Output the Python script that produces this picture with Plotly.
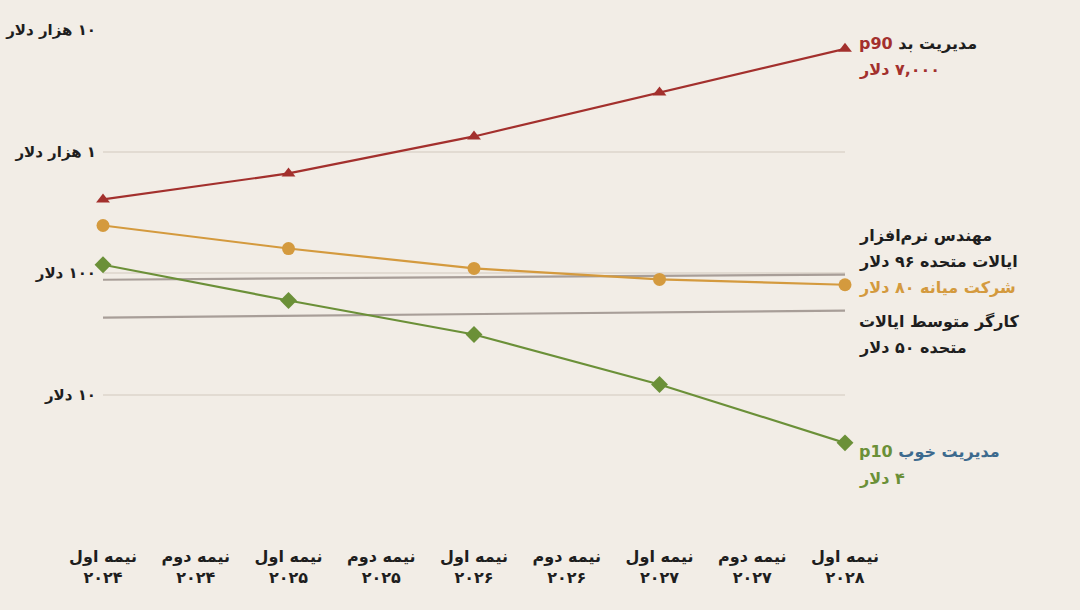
import plotly.graph_objects as go

categories = ["نیمه اول<br>۲۰۲۴", "نیمه دوم<br>۲۰۲۴", "نیمه اول<br>۲۰۲۵", "نیمه دوم<br>۲۰۲۵",
              "نیمه اول<br>۲۰۲۶", "نیمه دوم<br>۲۰۲۶", "نیمه اول<br>۲۰۲۷", "نیمه دوم<br>۲۰۲۷",
              "نیمه اول<br>۲۰۲۸"]
series_x = [categories[0], categories[2], categories[4], categories[6], categories[8]]
p90_bad = [403, 660, 1330, 3060, 7000]
mid_company = [246, 159, 109, 88.5, 80]
p10_good = [117, 59.4, 31.2, 12.1, 4.0]
ref_x = [categories[0], categories[8]]
us_engineer = [88, 97]
us_worker = [43, 49]
y_tickvals = [10, 100, 1000, 10000]
y_ticktext = ["\u200f۱۰ دلار", "\u200f۱۰۰ دلار", "\u200f۱ هزار دلار", "\u200f۱۰ هزار دلار"]

BG = "#f2ede6"
RED = "#a3302d"
ORANGE = "#d49a3e"
GREEN = "#6b9038"
GRAY = "#a89e98"
BLUE = "#3d6a8e"
DARK = "#1e1e1e"
FONT = "DejaVu Sans"

fig = go.Figure()
fig.add_trace(go.Scatter(x=ref_x, y=us_engineer, mode="lines",
                         line=dict(color=GRAY, width=2.2), hoverinfo="skip"))
fig.add_trace(go.Scatter(x=ref_x, y=us_worker, mode="lines",
                         line=dict(color=GRAY, width=2.2), hoverinfo="skip"))
fig.add_trace(go.Scatter(x=series_x, y=p90_bad, mode="lines+markers",
                         line=dict(color=RED, width=2.2),
                         marker=dict(symbol="triangle-up", size=12, color=RED), cliponaxis=False))
fig.add_trace(go.Scatter(x=series_x, y=mid_company, mode="lines+markers",
                         line=dict(color=ORANGE, width=2.2),
                         marker=dict(symbol="circle", size=13, color=ORANGE), cliponaxis=False))
fig.add_trace(go.Scatter(x=series_x, y=p10_good, mode="lines+markers",
                         line=dict(color=GREEN, width=2.2),
                         marker=dict(symbol="diamond", size=13, color=GREEN), cliponaxis=False))

PT, PB = 30, 516


def py(pix):
    return (PB - pix) / (PB - PT)


ann = [
    (43, f"<span style='color:{RED}'>p90</span> <span style='color:{DARK}'>مدیریت بد</span>", RED),
    (70, "\u200f۷,۰۰۰ دلار", RED),
    (236, "مهندس نرم‌افزار", DARK),
    (261, "ایالات متحده ۹۶ دلار", DARK),
    (287, "شرکت میانه ۸۰ دلار", ORANGE),
    (322, "کارگر متوسط ایالات", DARK),
    (347, "متحده ۵۰ دلار", DARK),
    (452, f"<span style='color:{GREEN}'>p10</span> <span style='color:{BLUE}'>مدیریت خوب</span>", GREEN),
    (478, "\u200f۴ دلار", GREEN),
]
for pix, txt, col in ann:
    fig.add_annotation(x=1, xref="paper", xanchor="left", xshift=12,
                       y=py(pix), yref="paper", yanchor="middle",
                       text=txt, showarrow=False, align="left",
                       font=dict(family=FONT, size=16, color=col, weight="bold"))

fig.update_layout(
    width=1080, height=610,
    paper_bgcolor=BG, plot_bgcolor=BG,
    margin=dict(l=103, r=235, t=PT, b=610 - PB, autoexpand=False),
    showlegend=False,
    font=dict(family=FONT, size=16, color=DARK, weight="bold"),
    xaxis=dict(type="category", categoryorder="array", categoryarray=categories,
               range=[0, 8], showgrid=False, zeroline=False, showline=False,
               automargin=False,
               ticks="outside", ticklen=26, tickcolor="rgba(0,0,0,0)",
               tickfont=dict(family=FONT, size=16, color=DARK, weight="bold")),
    yaxis=dict(type="log", range=[0, 4], tickvals=y_tickvals, ticktext=y_ticktext,
               showgrid=True, gridcolor="#e2dbd2", gridwidth=1.5, zeroline=False,
               showline=False, ticks="", ticklabelstandoff=6, automargin=False,
               tickfont=dict(family=FONT, size=15, color=DARK, weight="bold")),
)

fig.write_html("out.html", config={"displayModeBar": False},
               post_script="document.body.style.margin='0';document.body.style.overflow='hidden';")
